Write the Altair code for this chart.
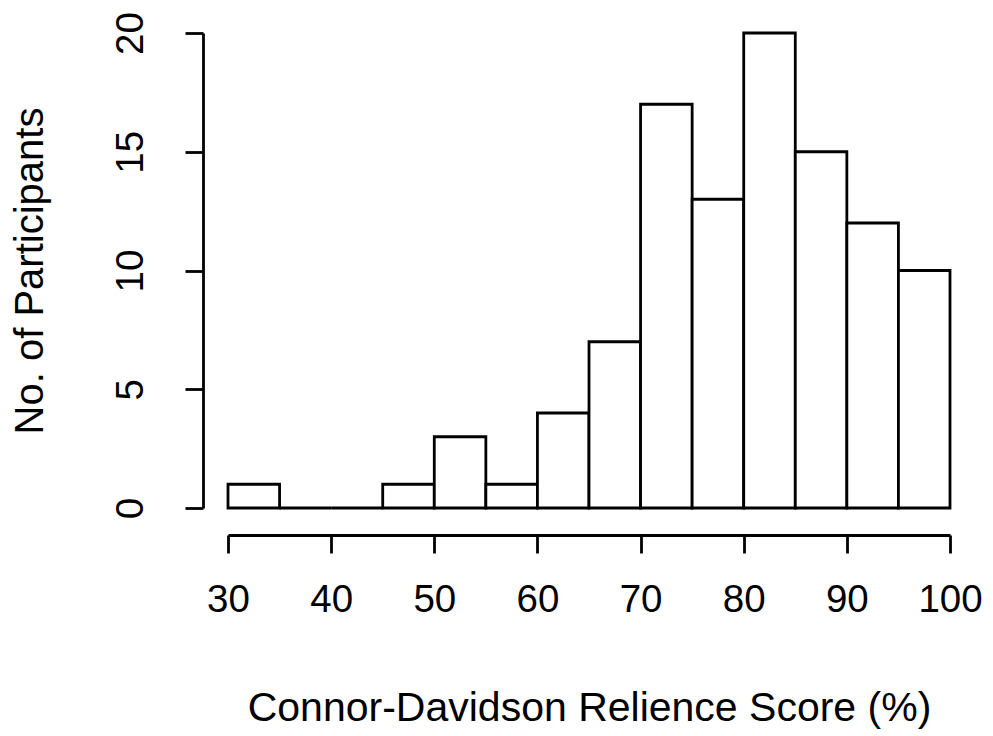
import altair as alt
import pandas as pd

bin_start = [30, 35, 40, 45, 50, 55, 60, 65, 70, 75, 80, 85, 90, 95]
bin_end = [35, 40, 45, 50, 55, 60, 65, 70, 75, 80, 85, 90, 95, 100]
counts = [1, 0, 0, 1, 3, 1, 4, 7, 17, 13, 20, 15, 12, 10]
x_ticks = [30, 40, 50, 60, 70, 80, 90, 100]
y_ticks = [0, 5, 10, 15, 20]

df = pd.DataFrame({"start": bin_start, "end": bin_end, "count": counts})

FONT = "Liberation Sans"
FS = 38.5
TFS = 41

chart = alt.Chart(df).mark_rect(
    fill="white", stroke="black", strokeWidth=2.8, strokeJoin="miter"
).encode(
    x=alt.X("start:Q",
            scale=alt.Scale(domain=[30, 100], nice=False, zero=False),
            axis=alt.Axis(
                values=x_ticks, offset=27, tickSize=18, tickWidth=2.8,
                domainWidth=2.8, domainColor="black", tickColor="black",
                labelFontSize=FS, labelFont=FONT, labelColor="black",
                labelPadding=28, labelFlush=False, labelOverlap=False,
                grid=False,
                title="Connor-Davidson Relience Score (%)",
                titleFont=FONT, titleFontSize=TFS, titleFontWeight="normal",
                titleColor="black", titleBaseline="alphabetic",
                titleAlign="center", titleX=361, titleY=185,
            )),
    x2="end:Q",
    y=alt.Y("count:Q",
            scale=alt.Scale(domain=[0, 20], nice=False),
            axis=alt.Axis(
                values=y_ticks, offset=25, tickSize=18, tickWidth=2.8,
                domainWidth=2.8, domainColor="black", tickColor="black",
                labelFontSize=FS, labelFont=FONT, labelColor="black",
                labelAngle=270, labelAlign="center", labelBaseline="bottom",
                labelPadding=35, labelFlush=False, labelOverlap=False,
                grid=False,
                title="No. of Participants",
                titleFont=FONT, titleFontSize=40, titleFontWeight="normal",
                titleColor="black", titleAngle=270, titleBaseline="alphabetic",
                titleAlign="center", titleX=-161, titleY=237.5,
            )),
    y2=alt.Y2(datum=0),
).properties(
    width=722, height=475,
    autosize=alt.AutoSizeParams(type="none"),
    padding={"left": 220, "top": 25, "right": 35, "bottom": 225},
    background="white",
).configure_view(stroke=None, strokeWidth=0)

chart.save("out.html", embed_options={"renderer": "svg", "actions": False})
